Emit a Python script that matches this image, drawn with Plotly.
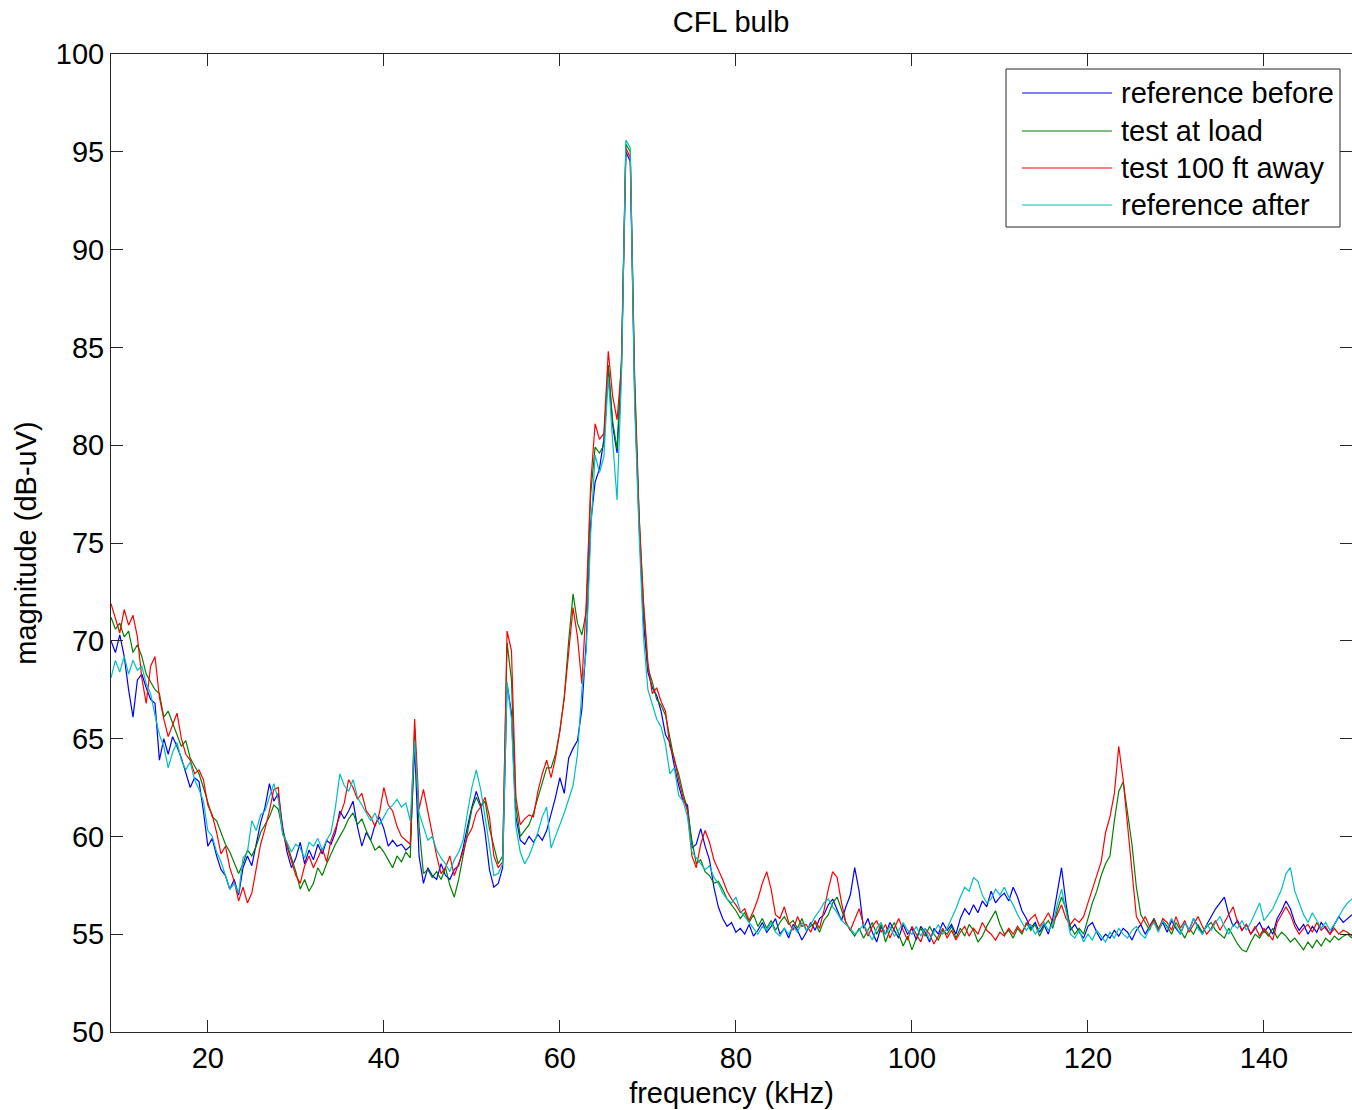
import plotly.graph_objects as go

# ---------------- data ----------------
freq_khz = [
    9.0, 9.5, 10.0, 10.5, 11.0, 11.5, 12.0, 12.5, 13.0, 13.5,
    14.0, 14.5, 15.0, 15.5, 16.0, 16.5, 17.0, 17.5, 18.0, 18.5,
    19.0, 19.5, 20.0, 20.5, 21.0, 21.5, 22.0, 22.5, 23.0, 23.5,
    24.0, 24.5, 25.0, 25.5, 26.0, 26.5, 27.0, 27.5, 28.0, 28.5,
    29.0, 29.5, 30.0, 30.5, 31.0, 31.5, 32.0, 32.5, 33.0, 33.5,
    34.0, 34.5, 35.0, 35.5, 36.0, 36.5, 37.0, 37.5, 38.0, 38.5,
    39.0, 39.5, 40.0, 40.5, 41.0, 41.5, 42.0, 42.5, 43.0, 43.5,
    44.0, 44.5, 45.0, 45.5, 46.0, 46.5, 47.0, 47.5, 48.0, 48.5,
    49.0, 49.5, 50.0, 50.5, 51.0, 51.5, 52.0, 52.5, 53.0, 53.5,
    54.0, 54.5, 55.0, 55.5, 56.0, 56.5, 57.0, 57.5, 58.0, 58.5,
    59.0, 59.5, 60.0, 60.5, 61.0, 61.5, 62.0, 62.5, 63.0, 63.5,
    64.0, 64.5, 65.0, 65.5, 66.0, 66.5, 67.0, 67.5, 68.0, 68.5,
    69.0, 69.5, 70.0, 70.5, 71.0, 71.5, 72.0, 72.5, 73.0, 73.5,
    74.0, 74.5, 75.0, 75.5, 76.0, 76.5, 77.0, 77.5, 78.0, 78.5,
    79.0, 79.5, 80.0, 80.5, 81.0, 81.5, 82.0, 82.5, 83.0, 83.5,
    84.0, 84.5, 85.0, 85.5, 86.0, 86.5, 87.0, 87.5, 88.0, 88.5,
    89.0, 89.5, 90.0, 90.5, 91.0, 91.5, 92.0, 92.5, 93.0, 93.5,
    94.0, 94.5, 95.0, 95.5, 96.0, 96.5, 97.0, 97.5, 98.0, 98.5,
    99.0, 99.5, 100.0, 100.5, 101.0, 101.5, 102.0, 102.5, 103.0, 103.5,
    104.0, 104.5, 105.0, 105.5, 106.0, 106.5, 107.0, 107.5, 108.0, 108.5,
    109.0, 109.5, 110.0, 110.5, 111.0, 111.5, 112.0, 112.5, 113.0, 113.5,
    114.0, 114.5, 115.0, 115.5, 116.0, 116.5, 117.0, 117.5, 118.0, 118.5,
    119.0, 119.5, 120.0, 120.5, 121.0, 121.5, 122.0, 122.5, 123.0, 123.5,
    124.0, 124.5, 125.0, 125.5, 126.0, 126.5, 127.0, 127.5, 128.0, 128.5,
    129.0, 129.5, 130.0, 130.5, 131.0, 131.5, 132.0, 132.5, 133.0, 133.5,
    134.0, 134.5, 135.0, 135.5, 136.0, 136.5, 137.0, 137.5, 138.0, 138.5,
    139.0, 139.5, 140.0, 140.5, 141.0, 141.5, 142.0, 142.5, 143.0, 143.5,
    144.0, 144.5, 145.0, 145.5, 146.0, 146.5, 147.0, 147.5, 148.0, 148.5,
    149.0, 149.5, 150.0,
]

reference_before = [
    70.0, 69.4, 70.3, 69.2, 67.5, 66.1, 68.0, 68.3, 67.6, 67.0,
    66.8, 63.9, 65.0, 64.2, 65.1, 64.6, 64.0, 63.3, 62.5, 63.0,
    62.8, 61.3, 59.5, 59.9, 59.0, 58.3, 58.0, 57.3, 57.8, 57.0,
    58.4, 59.0, 58.5, 59.6, 60.7, 61.5, 62.7, 61.8, 62.2, 60.5,
    59.2, 58.4, 58.9, 59.7, 58.6, 59.3, 58.8, 59.6, 59.1, 59.8,
    59.6, 60.2, 61.3, 60.9, 61.3, 61.8, 60.5, 59.5, 60.2, 59.8,
    60.6, 61.0, 60.4, 59.5, 59.8, 59.5, 59.6, 59.3, 59.5, 64.6,
    59.0, 57.6, 58.4, 58.0, 57.8, 58.6, 58.0, 57.8, 58.3, 58.5,
    59.4, 60.5, 61.5, 62.3, 61.6, 60.2, 58.3, 57.4, 57.6, 58.4,
    67.8, 66.3, 61.0, 59.8, 59.6, 60.0, 59.7, 60.1, 59.8, 60.3,
    61.1, 62.0, 63.0, 62.2, 64.0, 64.5, 64.9, 66.5, 70.0, 76.0,
    78.1, 78.8, 80.3, 84.0, 81.0, 79.6, 84.0, 95.0, 94.5, 82.5,
    76.0, 71.0, 68.4, 67.6, 67.2, 66.4, 65.2, 64.8, 63.6, 62.6,
    61.8, 61.6, 59.4, 59.6, 60.4, 59.5, 58.8, 57.4, 56.4, 55.8,
    55.4, 55.6, 55.1, 55.3, 55.0, 55.5, 54.9, 55.2, 55.6, 55.1,
    55.4, 55.8, 55.0, 55.3, 54.8, 55.5, 55.2, 54.7, 55.1, 55.6,
    55.2, 55.8, 56.0, 56.5, 56.8, 56.2, 55.7, 56.4, 57.0, 58.4,
    57.2, 55.3, 55.8, 55.1, 54.6, 55.4, 55.0, 55.6, 55.2, 54.8,
    55.5, 55.0, 55.3, 54.7, 55.4, 55.1, 54.6, 55.3, 55.0, 55.6,
    55.2, 55.5, 55.0, 55.8, 56.3, 56.0, 56.5, 56.1, 56.7, 56.4,
    57.2, 56.6, 56.9, 57.1, 56.7, 57.4, 56.9, 56.2, 55.8, 55.3,
    55.6, 55.1, 55.5, 55.0, 55.8, 57.2, 58.4, 56.6, 55.2, 55.5,
    55.1, 54.8, 55.4, 55.6, 55.1, 54.7, 55.0, 54.8, 55.2, 54.9,
    55.3, 55.1, 54.7, 55.2, 55.5, 55.0, 55.4, 55.8, 55.2, 55.6,
    55.1, 55.7, 55.3, 55.0, 55.6, 55.2, 55.8, 55.4, 55.0, 55.5,
    55.9, 56.3, 56.6, 56.9, 56.0, 55.4, 55.7, 55.2, 55.5, 55.0,
    55.3, 55.6, 55.1, 55.4, 55.0, 55.8, 56.2, 56.7, 56.3, 55.6,
    55.2, 55.5, 55.0, 55.4, 55.1, 55.6, 55.3, 55.0, 55.5, 55.9,
    55.6, 55.8, 56.0,
]

test_at_load = [
    71.2, 70.6, 70.9, 70.2, 70.5, 69.4, 69.8, 69.2, 68.3, 67.9,
    67.5, 67.3, 66.1, 66.4, 65.8, 65.3, 64.6, 64.9, 64.0, 63.6,
    63.2, 62.5, 61.7, 61.0, 60.8, 60.2, 59.6, 59.2, 58.6, 58.1,
    58.6, 59.3, 59.0, 59.5, 60.2, 60.6, 61.0, 61.6, 61.4, 60.3,
    59.6, 59.0, 58.2, 57.3, 57.8, 57.2, 57.6, 58.4, 58.0, 58.6,
    59.1, 59.6, 60.0, 60.4, 60.9, 61.2, 60.6, 60.9, 60.3, 59.8,
    59.3, 59.5, 59.2, 58.8, 58.4, 59.0, 58.7, 59.2, 58.9, 65.5,
    60.5, 58.1, 58.3, 57.9, 58.2, 57.8, 58.4, 57.5, 56.9, 57.8,
    59.0, 60.2, 61.4, 62.0, 61.5, 61.8, 60.4, 59.5, 58.6, 59.0,
    69.9, 68.0, 61.6, 60.0, 60.3, 60.6, 61.2, 62.0, 62.8, 63.5,
    63.5, 64.2, 65.4, 67.1, 70.0, 72.4, 70.9, 70.3, 71.5, 77.5,
    79.9, 79.6, 80.0, 84.1, 81.2, 79.8, 84.5, 95.4, 95.0, 83.5,
    76.5, 71.8, 68.6, 67.9, 67.0, 66.7, 66.2, 65.0, 63.9, 63.2,
    62.2, 61.4, 59.8, 58.6, 58.8, 58.2, 58.0, 57.6, 57.7, 57.3,
    56.8, 56.5, 56.2, 55.8, 56.1, 55.6, 56.0, 55.4, 55.8, 55.3,
    55.7, 55.2, 55.6, 55.9, 55.5, 55.7, 55.3, 55.8, 55.2, 55.4,
    55.6, 55.1, 55.7, 56.0, 56.6, 56.9, 56.3, 55.6, 55.2, 54.9,
    55.3, 54.8, 55.2, 55.6, 55.0, 55.5, 54.6, 55.2, 55.6, 55.0,
    54.4, 54.9, 54.2, 54.8, 55.3, 54.9, 55.4, 55.0, 54.7, 55.2,
    55.0, 55.4, 54.8, 55.3, 54.9, 55.5, 55.2, 54.6, 54.9, 55.4,
    55.8, 56.2, 55.5, 55.0, 55.2, 54.8, 55.3, 55.0, 55.6, 55.2,
    55.5, 54.9, 55.4, 55.7, 55.3, 56.2, 56.9, 56.3, 55.4, 55.0,
    55.3, 55.0, 55.8, 56.6, 57.2, 58.0, 58.6, 59.0, 60.8, 62.3,
    62.8, 61.3, 59.6, 57.4, 56.0, 55.6, 55.2, 55.8, 55.3, 55.7,
    55.4, 55.0, 55.6, 55.2, 54.8, 55.3, 55.0, 55.5, 55.1, 55.4,
    55.6, 55.2, 55.0, 54.8, 55.3, 54.9, 54.5, 54.2, 54.1, 54.6,
    55.0, 54.8, 55.2, 54.9, 55.3, 54.8, 55.1, 54.9, 54.6, 54.8,
    54.5, 54.2, 54.6, 54.3, 54.7, 54.4, 54.8, 54.6, 54.9, 54.7,
    54.9, 55.0, 54.8,
]

test_100ft_away = [
    71.9, 71.1, 70.4, 71.6, 70.8, 71.3, 70.2, 68.1, 66.8, 68.7,
    69.2, 67.1, 66.0, 65.1, 65.7, 66.3, 65.0, 64.2, 63.9, 63.2,
    63.4, 62.9, 61.6, 61.1, 60.2, 59.1, 59.5, 58.4, 57.7, 56.7,
    57.4, 56.6, 57.1, 58.3, 59.6, 60.4, 61.3, 62.4, 62.5, 60.2,
    59.5, 58.8, 58.0, 57.6, 58.5, 59.0, 58.4, 58.9, 59.4, 58.7,
    59.8, 60.4, 61.1, 61.7, 62.9, 62.5, 61.9, 62.2, 61.3, 61.0,
    60.5, 61.2, 62.5, 61.6, 61.3, 60.5, 60.0, 59.8, 59.6, 66.0,
    61.4, 62.4, 61.3, 60.2, 59.0, 58.1, 58.4, 59.0, 58.0, 58.6,
    59.2, 60.0, 60.4, 61.2, 61.5, 62.0, 61.0, 59.0, 58.4, 58.7,
    70.5, 69.5, 62.0, 60.6, 60.9, 61.1, 61.0, 62.3, 63.2, 63.9,
    63.0, 64.0, 65.4, 67.1, 69.5, 71.7, 70.2, 67.8, 72.0, 78.0,
    81.1, 80.3, 80.6, 84.8, 82.5, 81.3, 84.0, 95.2, 94.7, 83.0,
    76.3, 72.0, 68.9, 67.3, 67.6, 66.9, 66.4, 64.6, 64.0, 62.9,
    62.0, 61.3, 59.0, 58.4, 59.6, 60.3, 59.7, 58.8, 58.3, 57.8,
    57.2, 56.8, 56.5, 56.1, 56.3, 55.7, 56.2, 56.8, 57.6, 58.2,
    57.3, 56.0, 55.8, 56.4, 55.6, 55.2, 55.9, 55.4, 55.5, 55.1,
    55.7, 55.3, 56.2, 57.3, 58.2, 57.9, 56.6, 55.6, 55.2, 55.8,
    56.3, 55.5, 54.9, 55.4, 55.7, 55.1, 55.5, 54.8, 55.3, 55.8,
    55.2, 54.7, 55.4, 55.0, 54.6, 55.3, 55.0, 54.5, 54.9, 55.3,
    54.8, 55.2, 54.7, 55.1, 55.4, 54.9, 55.3, 55.0, 55.6, 55.2,
    55.0, 54.7, 55.1, 54.9, 55.3, 55.0, 55.4, 55.1, 55.5, 55.8,
    56.0, 55.4, 55.7, 56.1, 55.6, 56.0, 56.5, 55.8, 55.5, 55.8,
    55.6, 55.9, 56.6, 57.3, 58.0, 58.7, 60.2, 61.0, 62.2, 64.6,
    62.9, 60.6, 58.2, 55.9, 55.5, 55.9, 55.4, 55.7, 55.2, 55.8,
    55.6, 55.2, 55.9, 55.3, 55.7, 55.1, 55.5, 55.9, 55.4, 55.0,
    55.3, 55.7, 55.2, 55.6, 56.0, 56.4, 55.6, 55.2, 55.5, 55.0,
    55.4, 54.9, 55.3, 55.0, 54.7, 55.6, 56.0, 56.4, 56.0, 55.4,
    55.0, 55.3, 55.5, 55.1, 55.6, 55.2, 55.4, 55.0, 55.3, 55.0,
    55.2, 55.1, 54.9,
]

reference_after = [
    68.1, 69.0, 68.4, 69.2, 68.3, 69.0, 68.5, 68.7, 67.8, 67.3,
    66.2, 65.2, 64.6, 63.5, 64.3, 64.8, 63.9, 63.4, 63.8, 62.9,
    62.4, 61.8, 60.3, 60.0, 59.2, 58.7, 58.0, 57.3, 57.6, 57.1,
    58.9, 59.2, 60.8, 60.3, 61.1, 61.3, 62.0, 62.7, 61.9, 60.1,
    59.7, 59.2, 59.6, 59.4, 58.9, 59.7, 59.5, 59.9, 59.3, 59.8,
    60.2, 61.5, 63.2, 62.6, 62.3, 62.9, 62.0, 61.6, 61.2, 60.8,
    61.2, 60.6, 61.0, 61.4, 61.6, 61.9, 61.5, 61.7, 60.8, 64.9,
    61.2, 60.5, 59.8, 60.0, 59.3, 58.9, 58.6, 58.2, 58.8, 59.2,
    59.8, 61.2, 62.5, 63.4, 62.4, 61.0, 59.5, 58.0, 58.1, 58.6,
    67.9, 66.0, 60.5, 59.2, 58.6, 59.0, 59.6, 60.2, 61.0, 61.5,
    59.4, 60.0, 60.5, 61.2, 61.9, 62.6, 64.2, 67.5, 69.5, 75.5,
    79.5, 78.6, 79.4, 83.5, 80.2, 77.2, 83.5, 95.6, 95.2, 82.0,
    75.5, 70.2, 67.5, 66.8, 66.0, 65.6, 64.7, 63.2, 63.5, 62.1,
    61.8, 61.0, 59.2, 58.9, 58.6, 58.3, 58.5, 57.9, 57.6, 57.1,
    56.8, 56.6, 56.9, 56.2, 55.9, 55.6, 55.3, 55.0, 55.4, 55.2,
    55.6, 55.1, 54.9, 55.3, 55.0, 55.4, 55.1, 55.6, 55.2, 55.5,
    55.9, 56.2, 56.6, 56.8, 56.4, 56.1, 55.7, 55.5, 55.3, 55.0,
    55.2, 55.5, 55.1, 54.7, 55.3, 55.6, 55.0, 55.4, 54.9, 55.2,
    55.6, 55.2, 55.0, 55.4, 54.9, 55.3, 54.7, 55.1, 55.5, 55.0,
    55.3, 55.8, 56.3, 56.9, 57.4, 57.2, 57.9, 57.7, 57.0, 56.6,
    56.8, 57.3, 57.0, 57.4, 56.9, 56.5, 56.0, 55.6, 55.2, 55.5,
    55.0, 55.3, 55.6, 55.2, 55.5, 56.5, 57.3, 56.2, 55.0, 54.8,
    55.2, 54.6, 55.0, 54.7, 55.2, 54.9, 54.6, 55.1, 54.8, 55.3,
    55.0, 54.8, 55.2, 55.4, 55.0, 54.8, 55.3, 55.6, 55.1, 55.7,
    55.3, 55.8, 55.4, 55.0, 55.6, 55.2, 55.8, 55.3, 55.0, 55.5,
    55.2, 55.6, 55.9, 55.4, 55.0, 55.5, 55.3, 55.7, 55.2, 55.6,
    56.1, 56.6, 55.7, 56.0, 56.3, 56.8, 57.3, 58.1, 58.4, 57.2,
    56.6, 56.0, 55.6, 56.1, 55.7, 55.3, 55.6, 55.2, 55.5, 55.9,
    56.3, 56.6, 56.8,
]

series_names = ["reference before", "test at load", "test 100 ft away", "reference after"]
series_values = [reference_before, test_at_load, test_100ft_away, reference_after]
series_colors = ["#0000FF", "#008000", "#FF0000", "#00BFBF"]

x_tick_values = [20, 40, 60, 80, 100, 120, 140]
y_tick_values = [50, 55, 60, 65, 70, 75, 80, 85, 90, 95, 100]

for vals in series_values:
    assert len(vals) == len(freq_khz), len(vals)

# ---------------- figure ----------------
FONT = "Arial, 'Liberation Sans', Helvetica, sans-serif"
FS = 29
W, H = 1352, 1110
ML, MR, MT, MB = 111, 0, 54, 78

fig = go.Figure()
for name, vals, col in zip(series_names, series_values, series_colors):
    fig.add_trace(go.Scatter(
        x=freq_khz, y=vals, mode="lines", name=name,
        line=dict(color=col, width=1.2), showlegend=False,
    ))

axis_common = dict(
    showgrid=False, zeroline=False, showline=True, linecolor="#262626",
    linewidth=1, mirror="ticks", ticks="inside", ticklen=12,
    tickcolor="#262626", tickwidth=1,
    tickfont=dict(family=FONT, size=FS, color="#000000"),
)

fig.update_xaxes(range=[9, 150], tickvals=x_tick_values,
                 title=dict(text="frequency (kHz)", font=dict(family=FONT, size=FS, color="#000"), standoff=9),
                 **axis_common)
fig.update_yaxes(range=[50, 100], tickvals=y_tick_values,
                 title=dict(text="magnitude (dB-uV)", font=dict(family=FONT, size=FS, color="#000"), standoff=10),
                 **axis_common)

# legend box drawn in paper coordinates
pw, ph = W - ML - MR, H - MT - MB
def px_x(p):
    return (p - ML) / pw
def px_y(p):
    return (H - MB - p) / ph

fig.add_shape(type="rect", xref="paper", yref="paper",
              x0=px_x(1006), x1=px_x(1340), y0=px_y(227), y1=px_y(69),
              line=dict(color="#262626", width=1), fillcolor="white", layer="above")
row_y = [93, 131, 168, 205]
for name, col, ry in zip(series_names, series_colors, row_y):
    fig.add_shape(type="line", xref="paper", yref="paper",
                  x0=px_x(1022), x1=px_x(1112), y0=px_y(ry), y1=px_y(ry),
                  line=dict(color=col, width=1.2), layer="above")
    fig.add_annotation(xref="paper", yref="paper", x=px_x(1119), y=px_y(ry),
                       text=name, showarrow=False, xanchor="left", yanchor="middle",
                       font=dict(family=FONT, size=FS, color="#000"))

fig.update_layout(
    width=W, height=H,
    margin=dict(l=ML, r=MR, t=MT, b=MB, autoexpand=False),
    paper_bgcolor="white", plot_bgcolor="white",
    title=dict(text="CFL bulb", x=731 / W, xanchor="center",
               y=1 - 22 / H, yanchor="middle",
               font=dict(family=FONT, size=FS, color="#000")),
    showlegend=False,
)

fig.write_html("out.html")
